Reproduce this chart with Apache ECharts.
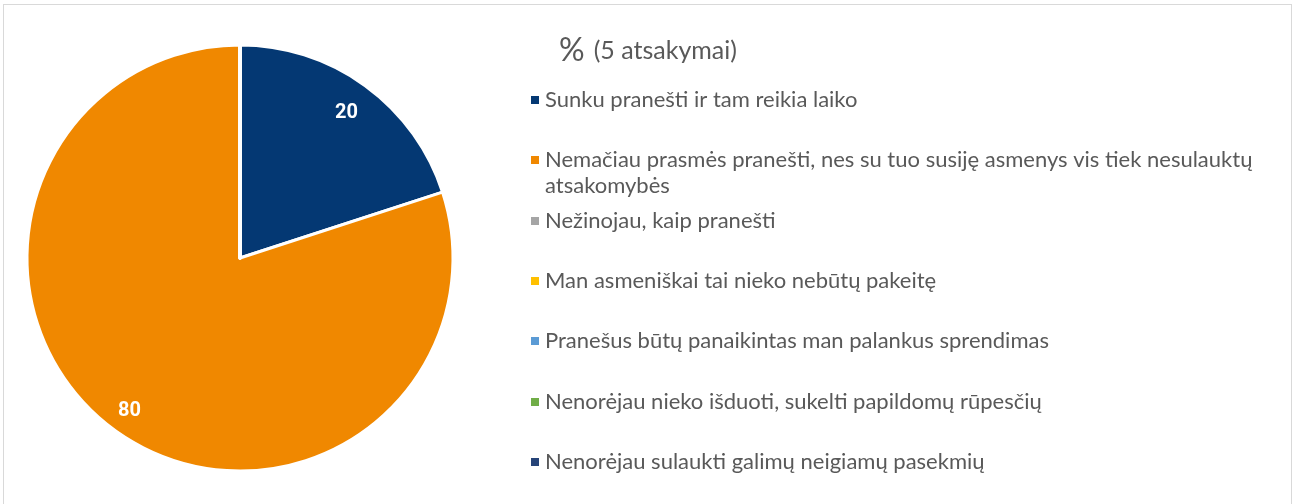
<!DOCTYPE html>
<html>
<head>
<meta charset="utf-8">
<script src="https://cdn.jsdelivr.net/npm/echarts@6/dist/echarts.min.js"></script>
<style>
  html, body { margin: 0; padding: 0; background: #fff; overflow: hidden; }
  #frame { position: absolute; left: 3px; top: 4px; width: 1287px; height: 520px; border: 1px solid #d9d9d9; }
  #chart { position: absolute; left: 0; top: 0; width: 1293px; height: 504px; }
</style>
</head>
<body>
<div id="frame"></div>
<div id="chart"></div>
<script>
// answers and their shares (%)
var categories = [
  'Sunku pranešti ir tam reikia laiko',
  'Nemačiau prasmės pranešti, nes su tuo susiję asmenys vis tiek nesulauktų atsakomybės',
  'Nežinojau, kaip pranešti',
  'Man asmeniškai tai nieko nebūtų pakeitę',
  'Pranešus būtų panaikintas man palankus sprendimas',
  'Nenorėjau nieko išduoti, sukelti papildomų rūpesčių',
  'Nenorėjau sulaukti galimų neigiamų pasekmių'
];
var values = [20, 80, 0, 0, 0, 0, 0];
var colors = ['#043873', '#f08800', '#a5a5a5', '#ffc000', '#5b9bd5', '#70ad47', '#264478'];
var titleMain = '%';
var titleSub = '(5 atsakymai)';

var legendTops = [87, 121, 208, 268, 328, 389, 449];

var myChart = echarts.init(document.getElementById('chart'));

var pieData = categories.map(function (name, i) {
  return { name: name, value: values[i], itemStyle: { color: colors[i] } };
});

var legends = categories.map(function (name, i) {
  var ts = {
    color: '#595959',
    fontFamily: 'Lato',
    fontSize: 22,
    lineHeight: 26
  };
  var leg = {
    data: [name],
    orient: 'vertical',
    left: 529,
    top: legendTops[i],
    icon: 'rect',
    itemWidth: 10,
    itemHeight: 10,
    itemGap: 0,
    padding: 0,
    selectedMode: false,
    textStyle: ts
  };
  if (i === 1) {
    // long answer wraps; empty first line keeps the marker on the first text line
    ts.width = 790;
    ts.overflow = 'break';
    leg.formatter = function (n) { return '\n' + n; };
  }
  return leg;
});

myChart.setOption({
  animation: false,
  title: {
    text: '{a|' + titleMain + '} {b|' + titleSub + '}',
    left: 559,
    top: 35,
    padding: 0,
    textStyle: {
      rich: {
        a: { fontFamily: 'Lato', fontSize: 32, fontWeight: 'normal', color: '#595959' },
        b: { fontFamily: 'Lato', fontSize: 25, fontWeight: 'normal', color: '#595959', padding: [0, 0, 0, 4] }
      }
    }
  },
  legend: legends,
  series: [
    {
      type: 'pie',
      center: [240, 258],
      radius: 213,
      startAngle: 90,
      clockwise: true,
      avoidLabelOverlap: false,
      itemStyle: { borderColor: '#fff', borderWidth: 3 },
      label: { show: false },
      labelLine: { show: false },
      emphasis: { disabled: true },
      data: pieData
    },
    {
      // transparent ring used only to place the value labels near the rim
      type: 'pie',
      center: [238, 262],
      radius: [150, 213],
      startAngle: 90,
      clockwise: true,
      silent: true,
      avoidLabelOverlap: false,
      itemStyle: { color: 'rgba(0,0,0,0)', borderWidth: 0 },
      label: {
        show: true,
        position: 'inside',
        color: '#fff',
        fontFamily: 'Roboto',
        fontWeight: 'bold',
        fontSize: 20,
        formatter: function (p) { return p.value ? String(p.value) : ''; }
      },
      labelLine: { show: false },
      emphasis: { disabled: true },
      data: values.map(function (v, i) { return { name: categories[i], value: v }; })
    }
  ]
});
</script>
</body>
</html>
